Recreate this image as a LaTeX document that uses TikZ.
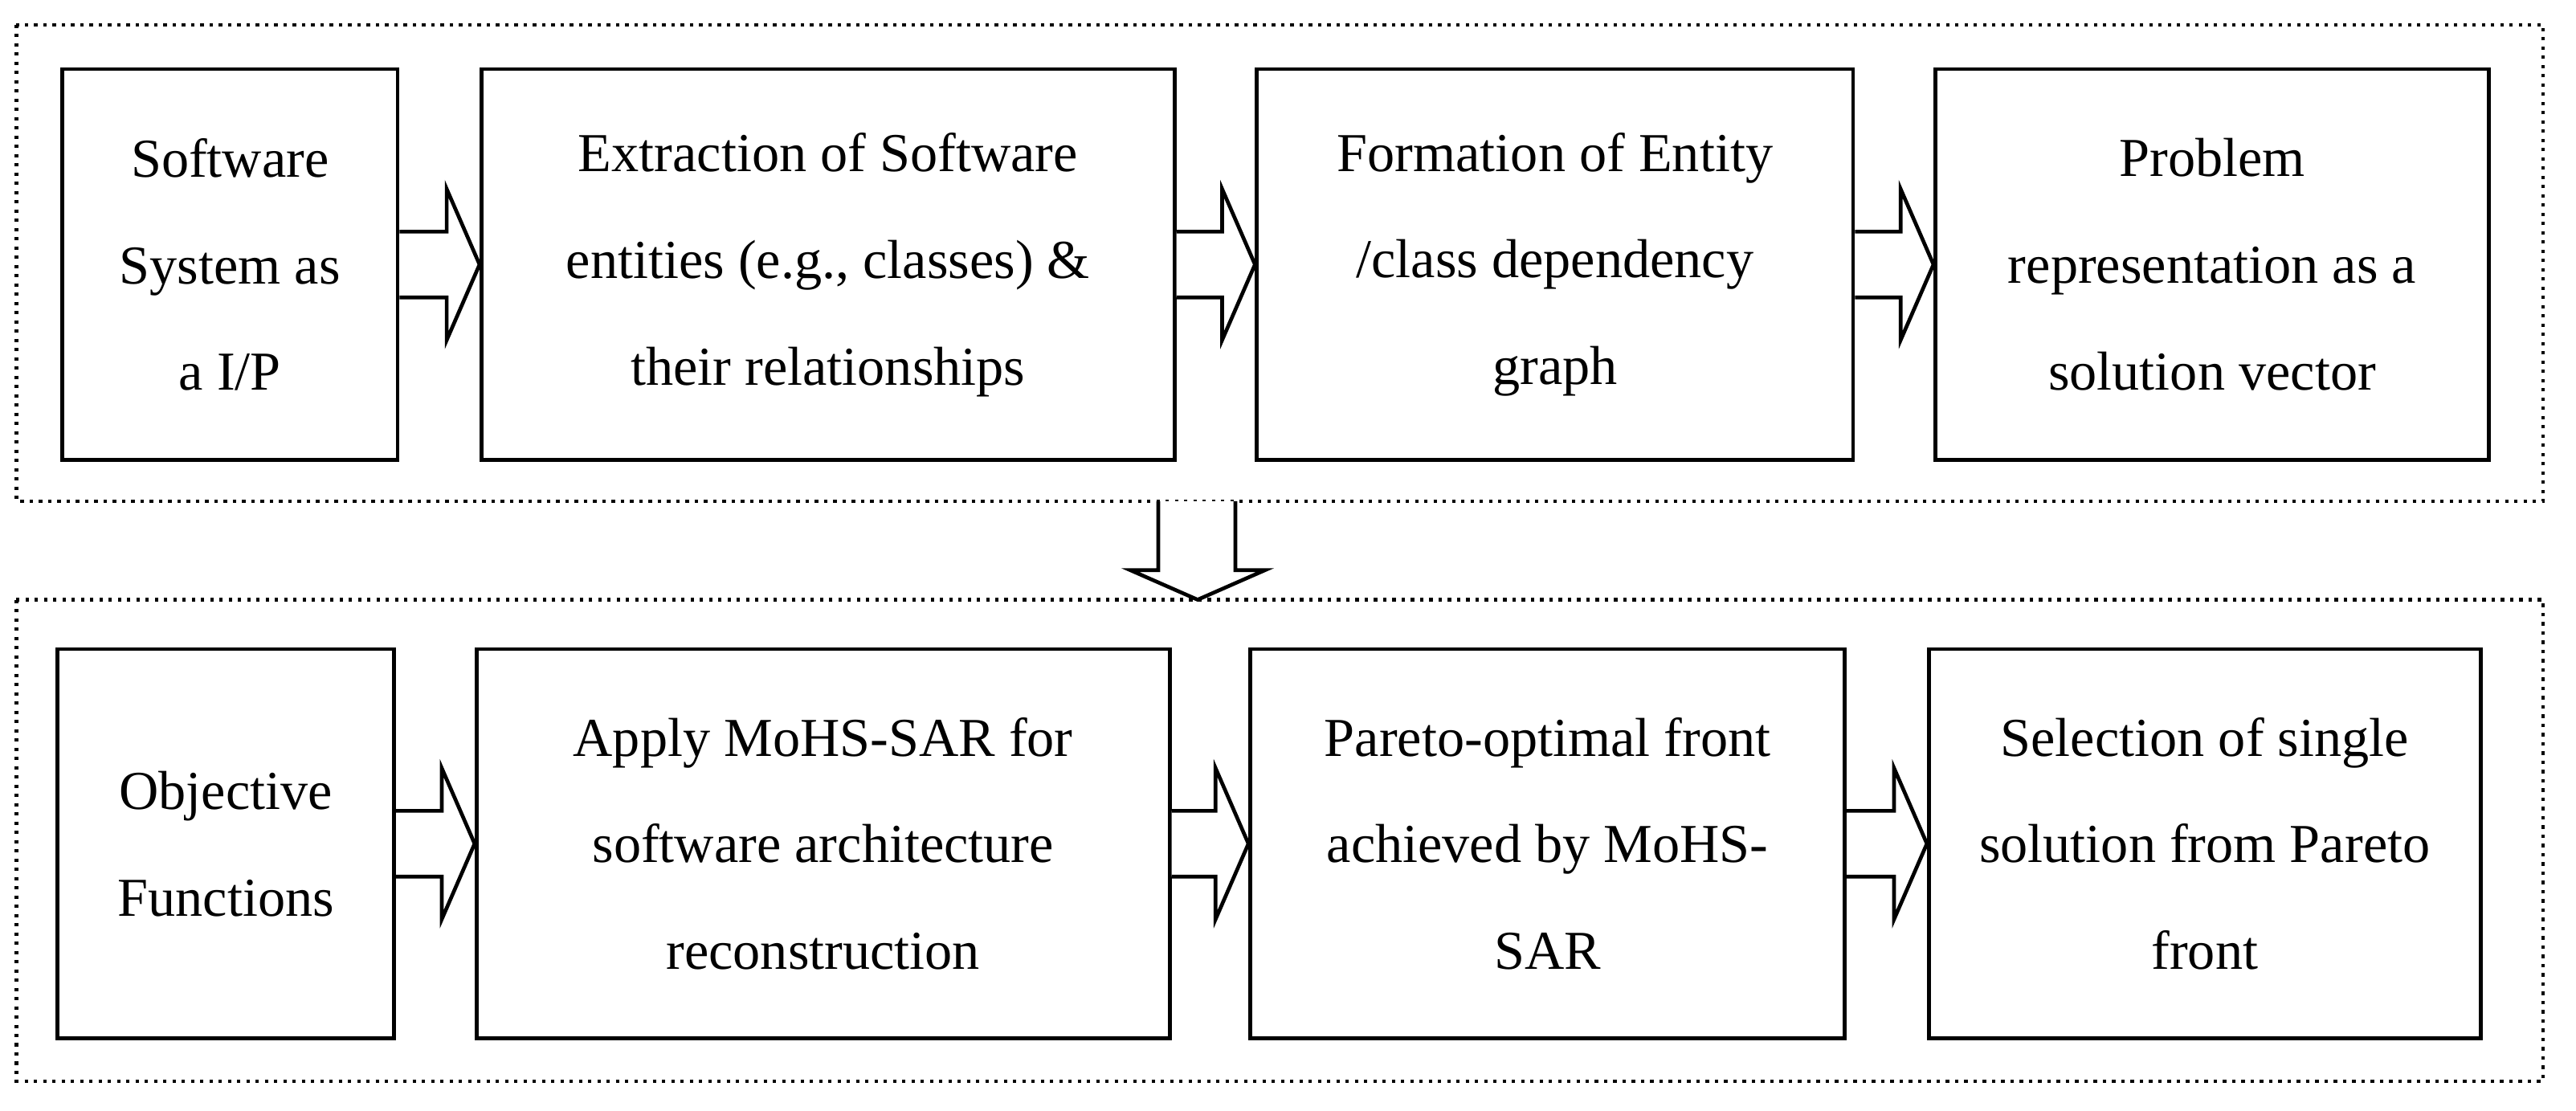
\documentclass[tikz,border=0pt]{standalone}
\usepackage{fontspec}
\setmainfont{Liberation Serif}
\usetikzlibrary{calc}
\tikzset{
  stage/.style={draw, line width=1.3pt, minimum height=4.76cm, align=center, inner sep=0pt,
    font=\fontsize{19}{37}\selectfont},
  group/.style={draw, line width=1.2pt, dotted},
  flow/.style={line width=1.3pt, fill=white, line join=miter}
}
\newcommand{\blockarrow}[2]{%
  \draw[flow] ($(#1.east)+(0,20)$) -- ($(#2.west)+(-20,20)$) -- ($(#2.west)+(-20,46)$)
    -- (#2.west) -- ($(#2.west)+(-20,-46)$) -- ($(#2.west)+(-20,-20)$) -- ($(#1.east)+(0,-20)$);}
\begin{document}
\begin{tikzpicture}[x=0.02cm,y=-0.02cm]
  \useasboundingbox (0,0) rectangle (1568,676);
  % top row
  \draw[group] (10,15) rectangle (1548,305);
  \node[stage, minimum width=4.08cm] (sys) at (140,161) {Software\\System as\\a I/P};
  \node[stage, minimum width=8.44cm] (ext) at (504,161) {Extraction of Software\\entities (e.g., classes) \&\\their relationships};
  \node[stage, minimum width=7.26cm] (dep) at (946.5,161) {Formation of Entity\\/class dependency\\graph};
  \node[stage, minimum width=6.74cm] (rep) at (1346.5,161) {Problem\\representation as a\\solution vector};
  \blockarrow{sys}{ext}
  \blockarrow{ext}{dep}
  \blockarrow{dep}{rep}
  % between the groups
  \coordinate (tip) at (729,365);
  \draw[flow] (705,305) -- (705,347) -- (688,347) -- (tip) -- (770,347) -- (752,347) -- (752,305);
  % bottom row
  \draw[group] (10,365) rectangle (1548,658);
  \node[stage, minimum width=4.1cm, minimum height=4.74cm] (obj) at (137.5,513.5) {Objective\\Functions};
  \node[stage, minimum width=8.44cm, minimum height=4.74cm] (mohs) at (501,513.5) {Apply MoHS-SAR for\\software architecture\\reconstruction};
  \node[stage, minimum width=7.24cm, minimum height=4.74cm] (par) at (942,513.5) {Pareto-optimal front\\achieved by MoHS-\\SAR};
  \node[stage, minimum width=6.72cm, minimum height=4.74cm] (sel) at (1342,513.5) {Selection of single\\solution from Pareto\\front};
  \blockarrow{obj}{mohs}
  \blockarrow{mohs}{par}
  \blockarrow{par}{sel}
\end{tikzpicture}
\end{document}
